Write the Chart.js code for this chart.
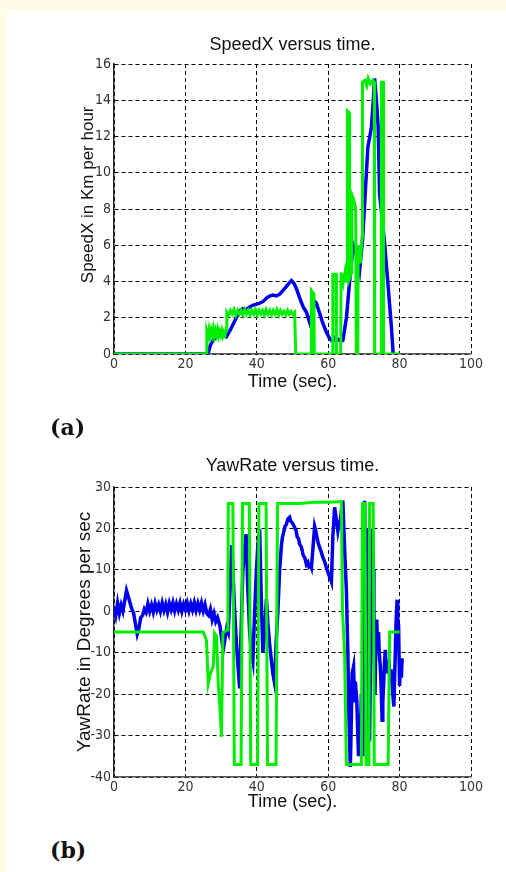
<!DOCTYPE html>
<html>
<head>
<meta charset="utf-8">
<script src="https://cdn.jsdelivr.net/npm/chart.js@4.4.0/dist/chart.umd.min.js"></script>
<style>
  html, body { margin: 0; padding: 0; }
  body { width: 506px; height: 872px; background: #fffbe6; position: relative; overflow: hidden; }
  #sheet { position: absolute; left: 7px; top: 10px; width: 499px; height: 862px; background: #fff; }
  canvas { position: absolute; left: 0; }
  .tag { position: absolute; left: 50px; font: bold 22px "DejaVu Serif", "Liberation Serif", serif; color: #111; }
</style>
</head>
<body>
<div id="sheet"></div>
<canvas id="chartSpeed" width="506" height="400" style="top:0px"></canvas>
<canvas id="chartYaw" width="506" height="410" style="top:420px"></canvas>
<div class="tag" style="top:414px">(a)</div>
<div class="tag" style="top:837px">(b)</div>
<script>
// 축 눈금
var timeTicks = [0, 20, 40, 60, 80, 100];
var speedTicks = [0, 2, 4, 6, 8, 10, 12, 14, 16];
var yawTicks = [-40, -30, -20, -10, 0, 10, 20, 30];

// SpeedX - 파란색 (측정값)
var speedBlueT = [0, 26.3, 27.0, 27.7, 28.5, 29.6, 30.5, 31.5, 32.5, 33.5, 34.5, 35.3, 36.1, 37.0, 38.0, 39.0, 40.0, 40.8, 41.8, 42.8, 43.6, 44.5, 45.5, 46.4, 47.3, 48.2, 49.0, 49.7, 50.4, 51.1, 52.0, 53.0, 53.9, 54.8, 55.6, 56.2, 56.7, 57.5, 58.5, 59.5, 60.4, 61.3, 62.0, 62.8, 63.5, 64.1, 65.1, 66.0, 67.0, 67.9, 68.8, 69.7, 70.7, 71.1, 72.1, 72.5, 73.0, 73.5, 74.0, 74.4, 75.1, 75.8, 76.8, 77.7, 78.2, 78.6];
var speedBlue = [0, 0, 0.5, 0.75, 0.9, 1.0, 1.05, 0.95, 1.3, 1.7, 2.1, 2.4, 2.5, 2.45, 2.6, 2.7, 2.75, 2.8, 2.9, 3.1, 3.2, 3.25, 3.2, 3.3, 3.5, 3.7, 3.9, 4.05, 3.9, 3.6, 3.1, 2.6, 2.3, 1.75, 2.3, 2.9, 2.8, 2.3, 1.7, 1.2, 0.85, 0.7, 0.9, 0.8, 0.7, 0.75, 2.0, 4.0, 6.0, 5.5, 4.6, 6.5, 10.0, 11.4, 12.5, 13.6, 15.2, 14.0, 12.5, 8.8, 7.5, 6.1, 3.7, 1.5, 0, 0];

// SpeedX - 초록색 (명령값)
var speedGreenT = [0, 25.9, 26.0, 26.3, 26.6, 26.9, 27.2, 27.5, 27.8, 28.1, 28.4, 28.7, 29.0, 29.3, 29.6, 29.9, 30.2, 30.5, 30.8, 31.1, 31.4,
	31.6, 32.1, 32.6, 33.1, 33.6, 34.1, 34.6, 35.1, 35.6, 36.1, 36.6, 37.1, 37.6, 38.1, 38.6, 39.1, 39.6, 40.1, 40.6, 41.1, 41.6, 42.1, 42.6, 43.1, 43.6, 44.1, 44.6, 45.1, 45.6, 46.1, 46.6, 47.1, 47.6, 48.1, 48.6, 49.1, 49.6, 50.1, 50.6,
	50.9, 55.2, 55.3, 56.0, 56.1, 61.2, 61.3, 62.2, 62.3, 63.5, 63.6, 64.2, 64.8, 65.3, 65.4, 65.9, 66.0, 66.5, 66.6, 67.2, 67.7, 67.9, 68.3, 68.4, 69.0, 69.5, 69.6, 70.3, 70.8, 71.2, 71.8, 72.5, 72.9, 73.0, 74.8, 74.9, 75.4, 75.5, 80.0];
var speedGreen = [0, 0, 1.2, 0.95, 1.35, 1.0, 1.3, 1.05, 1.4, 1.0, 1.3, 1.05, 1.35, 1.0, 1.25, 1.05, 1.3, 1.0, 1.2, 1.05, 1.3,
	2.3, 2.15, 2.4, 2.2, 2.45, 2.15, 2.4, 2.2, 2.4, 2.15, 2.45, 2.2, 2.4, 2.15, 2.4, 2.2, 2.45, 2.15, 2.4, 2.2, 2.4, 2.15, 2.45, 2.2, 2.4, 2.15, 2.4, 2.2, 2.45, 2.15, 2.4, 2.2, 2.35, 2.15, 2.4, 2.2, 2.35, 2.2, 2.3,
	0, 0, 3.5, 3.3, 0, 0, 4.4, 4.4, 0, 0, 4.5, 3.9, 4.6, 4.0, 13.4, 13.3, 4.2, 4.5, 8.8, 8.5, 8.0, 0, 0, 6.0, 5.0, 6.5, 15.0, 15.1, 14.8, 15.2, 14.9, 15.1, 15.0, 0, 0, 15.0, 15.0, 0, 0];

// YawRate - 파란색
var yawBlueT = [0, 0.5, 1, 1.5, 2, 2.5, 3, 3.5, 4, 4.5, 5, 5.5, 6, 6.5, 7, 7.5, 8, 8.5, 9, 9.5, 10, 10.5, 11, 11.5, 12, 12.5, 13, 13.5, 14, 14.5, 15, 15.5, 16, 16.5, 17, 17.5, 18, 18.5, 19, 19.5, 20, 20.5, 21, 21.5, 22, 22.5, 23, 23.5, 24, 24.5, 25, 25.5, 26,
	26.5, 27, 27.5, 28, 28.5, 29, 29.7, 30.2, 30.6, 31.2, 31.6, 32.0, 32.5, 33.0, 33.4, 33.8, 34.3, 34.8, 35.2, 35.6, 36.1, 36.6, 37.0, 37.5, 38.0, 38.5, 38.9, 39.4, 39.9, 40.3, 40.8, 41.2, 41.7, 42.2, 42.7, 43.1, 43.6, 44.1, 44.5, 45.0, 45.4, 45.9, 46.4,
	46.9, 47.2, 47.5, 47.9, 48.3, 48.7, 49.2, 49.5, 49.8, 50.2, 50.6, 51.0, 51.3, 51.7, 52.0, 52.5, 53.0, 53.5, 53.9, 54.3, 54.6, 55.0, 55.3, 55.8, 56.2, 56.5, 56.8, 57.2, 57.6, 58.0, 58.5, 59.0, 59.5, 59.9, 60.3, 60.6, 60.9, 61.3, 61.8, 62.3, 62.7, 63.0, 63.4, 63.8, 64.1, 64.6,
	65.1, 65.5, 65.8, 66.2, 66.5, 66.7, 67.1, 67.4, 67.6, 68.0, 68.3, 68.5, 68.8, 69.0, 69.3, 69.5, 69.7, 69.9, 70.2, 70.4, 70.6, 70.8, 71.0, 71.3, 71.6, 71.8, 72.1, 72.4, 72.6, 72.8, 73.1, 73.3, 73.6, 73.8, 74.1, 74.3, 74.6, 74.9, 75.1, 75.3, 75.5, 75.8, 76.0, 76.3, 76.5, 76.8, 77.0, 77.3, 77.6, 78.0, 78.4, 78.6, 78.8, 79.0, 79.3, 79.5, 79.7, 80.0, 80.2, 80.5, 80.7];
var yawBlue = [1, -1, 2, -0.5, 1.5, 0, 2.5, 5, 3.5, 2, 0.5, -0.5, -3, -5.5, -4, -1.5, -1, 0.5, -0.3, 1.8, 0, 1.5, -0.2, 1.9, 0.3, 1.6, 0, 2.0, 0.2, 1.7, -0.2, 1.9, 0.4, 2.1, 0.1, 1.8, 0.3, 2.0, 0, 1.7, 0.4, 2.0, 0.1, 1.8, 0.3, 2.1, 0.2, 1.9, 0.3, 2.0, 0.1, 1.6, -0.5,
	-1, 0.5, -2, -0.5, -2.5, -1.5, -3.6, -7, -9.3, -6, -4, -5, 5, 16, 8, 0, -8, -14, -18.6, -5, 10, 15, 18.6, 5, -5, -10, -12, 0, 10, 16, 19.8, 5, -10, -5, 3, -3, -8, -12, -15, -17.4, -8, 0, 10,
	16, 18, 19, 20.5, 21, 22.3, 22.7, 21.8, 21.5, 21, 20.2, 19.5, 18, 17.5, 16.2, 15.5, 13.5, 12.8, 11.3, 11.8, 10.8, 11.2, 10.5, 16, 20.5, 19.5, 18, 16.5, 15.4, 14.5, 13, 12, 10.5, 9.5, 8.5, 8, 7.2, 18, 25.1, 22, 19.4, 21, 22, 25, 26.7, 15,
	5, -10, -25, -37.6, -25, -15, -13.3, -22, -17, -21.4, -30, -35, -25, -30, -20, -21, -35, -10, 26.7, 10, 20, -20, -10, -29.5, -30, -15, -5, 20, 10, 0, -20, -10, -2, -8, -5, -10, -13.3, -20, -26.3, -22, -18, -12, -9.3, -15, -12, -14, -11.7, -17, -14, -19, -23, -16, -10, -3, 2.8, -8, -3, -18, -13.3, -16, -11.3];

// YawRate - 초록색
var yawGreenT = [0, 25.0, 25.9, 26.4, 27.0, 27.8, 28.2, 28.7, 29.2, 29.8, 30.1, 30.5, 31.5, 31.9, 32.0, 33.3, 33.7, 35.6, 36.0, 37.9, 38.3, 40.2, 40.6, 42.6, 43.0, 45.4, 45.8, 52.0, 56.0, 60.0, 63.7, 64.0, 64.3, 64.6, 65.1, 69.3, 69.6, 70.3, 70.6, 71.4, 71.6, 72.6, 72.9, 76.8, 77.2, 80.0];
var yawGreen = [-5, -5, -7, -17.4, -15, -13.3, -5.3, -6, -17.4, -25, -30.3, -5.3, -4.5, -4.5, 26, 26, -37, -37, 26, 26, -37, -37, 26, 26, -37, -37, 26, 26, 26.3, 26.3, 26.5, 0, -5, -10, -37, -37, 26, 26, -37, -37, 26, 26, -37, -37, -5, -5];

function toPoints(ts, vs) {
	var pts = [];
	for (var i = 0; i < ts.length; i++) {
		pts.push({x: ts[i], y: vs[i]});
	}
	return pts;
}

var tickFont = {family: "'Liberation Sans Narrow', 'DejaVu Sans Condensed', 'Liberation Sans', sans-serif", size: 14};
var labelFont = "'Liberation Sans', Arial, sans-serif";

function makeChart(id, opt) {
	var ctx = document.getElementById(id).getContext('2d');
	return new Chart(ctx, {
		type: 'line',
		data: {
			datasets: [{
				data: toPoints(opt.greenT, opt.green),
				borderColor: '#00ee00',
				borderWidth: 3,
				pointRadius: 0,
				tension: 0,
				order: 0
			}, {
				data: toPoints(opt.blueT, opt.blue),
				borderColor: '#0000ee',
				borderWidth: 3.5,
				pointRadius: 0,
				tension: 0,
				order: 1
			}]
		},
		options: {
			responsive: false,
			animation: false,
			devicePixelRatio: 1,
			layout: {padding: {left: 0, right: 35, top: 0, bottom: 0}},
			plugins: {
				legend: {display: false},
				tooltip: {enabled: false},
				title: {
					display: true,
					fullSize: false,
					text: opt.title,
					color: '#111',
					font: {family: labelFont, size: 18, weight: 'normal'},
					padding: {top: opt.titleTop, bottom: opt.titleBottom}
				}
			},
			scales: {
				x: {
					type: 'linear',
					min: 0,
					max: 100,
					afterFit: function(scale) { scale.height = opt.xHeight; },
					afterBuildTicks: function(scale) { scale.ticks = timeTicks.map(function(v) { return {value: v}; }); },
					ticks: {color: '#333', font: tickFont, padding: 2, maxRotation: 0},
					grid: {color: '#000', lineWidth: 1, drawTicks: false},
					border: {color: '#555', width: 1.5, dash: [4, 3]},
					title: {
						display: true,
						text: 'Time (sec).',
						color: '#111',
						font: {family: labelFont, size: 18},
						padding: {top: 0, bottom: opt.xTitleBottom}
					}
				},
				y: {
					min: opt.yTicks[0],
					max: opt.yTicks[opt.yTicks.length - 1],
					afterFit: function(scale) { scale.width = 114; },
					afterBuildTicks: function(scale) { scale.ticks = opt.yTicks.map(function(v) { return {value: v}; }); },
					ticks: {color: '#333', font: tickFont, padding: 3},
					grid: {color: '#000', lineWidth: 1, drawTicks: false},
					border: {color: '#222', width: 1.5, dash: [4, 3]},
					title: {
						display: true,
						text: opt.yTitle,
						color: '#111',
						font: {family: labelFont, size: opt.yTitleSize},
						padding: {top: opt.yTitleLeft, bottom: 0}
					}
				}
			}
		}
	});
}

var chart1 = makeChart('chartSpeed', {
	title: 'SpeedX versus time.',
	titleTop: 34.2, titleBottom: 8.2,
	xHeight: 46, xTitleBottom: 7.2,
	yTicks: speedTicks,
	yTitle: '      SpeedX in Km per hour',
	yTitleSize: 17, yTitleLeft: 78,
	greenT: speedGreenT, green: speedGreen,
	blueT: speedBlueT, blue: speedBlue
});

var chart2 = makeChart('chartYaw', {
	title: 'YawRate versus time.',
	titleTop: 35.2, titleBottom: 10.2,
	xHeight: 53, xTitleBottom: 17.2,
	yTicks: yawTicks,
	yTitle: 'YawRate in Degrees per sec',
	yTitleSize: 19, yTitleLeft: 73.3,
	greenT: yawGreenT, green: yawGreen,
	blueT: yawBlueT, blue: yawBlue
});
</script>
</body>
</html>
